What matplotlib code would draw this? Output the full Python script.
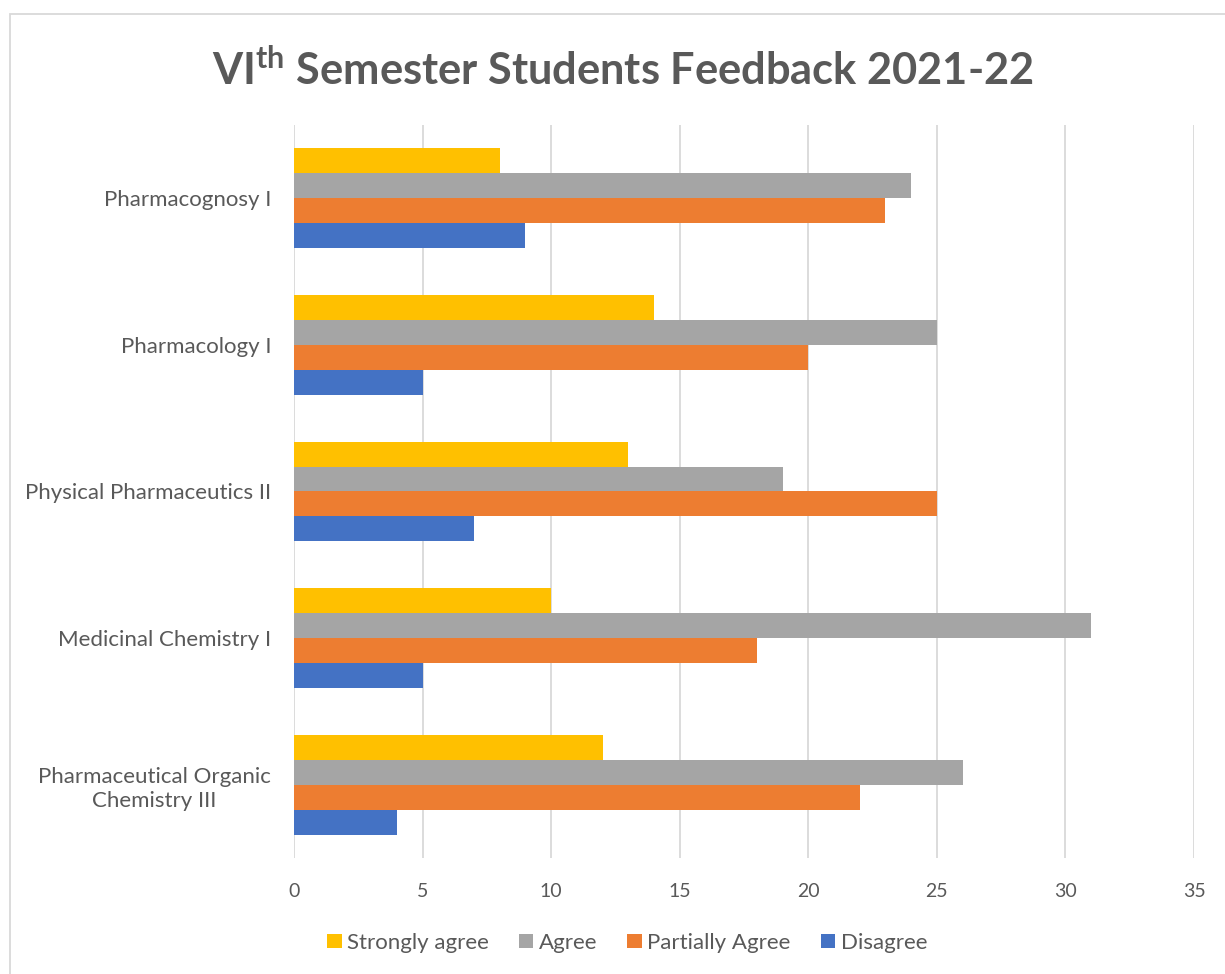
import numpy as np
import matplotlib.pyplot as plt
from matplotlib.patches import Rectangle

plt.rcParams['font.family'] = ['Lato', 'DejaVu Sans']
plt.rcParams['mathtext.fontset'] = 'custom'
plt.rcParams['mathtext.bf'] = 'Lato:bold'
plt.rcParams['mathtext.rm'] = 'Lato'

subjects = ['Pharmacognosy I', 'Pharmacology I', 'Physical Pharmaceutics II',
            'Medicinal Chemistry I', 'Pharmaceutical Organic\nChemistry III']
strongly_agree = [8, 14, 13, 10, 12]
agree = [24, 25, 19, 31, 26]
partially_agree = [23, 20, 25, 18, 22]
disagree = [9, 5, 7, 5, 4]

series = [('Strongly agree', strongly_agree, '#FFC000'),
          ('Agree', agree, '#A5A5A5'),
          ('Partially Agree', partially_agree, '#ED7D31'),
          ('Disagree', disagree, '#4472C4')]

text_col = '#595959'

fig = plt.figure(figsize=(12.25, 9.74), dpi=100)
ax = fig.add_axes([0.240, 0.1191, 0.7347, 0.7526])

y = np.arange(len(subjects))
h = 0.17
for i, (name, vals, col) in enumerate(series):
    ax.barh(y + (i - 1.5) * h, vals, height=h, color=col, label=name, zorder=3)

ax.set_ylim(len(subjects) - 0.5, -0.5)
ax.set_xlim(0, 35)
ax.set_xticks(np.arange(0, 36, 5))
ax.set_yticks(y)
ax.set_yticklabels(subjects, ha='right', multialignment='center', linespacing=1.3)
ax.tick_params(axis='y', length=0, pad=16.5, labelsize=16, labelcolor=text_col)
ax.tick_params(axis='x', length=0, pad=18, labelsize=14, labelcolor=text_col)
ax.xaxis.grid(True, color='#D9D9D9', linewidth=1.3, zorder=0)
for s in ax.spines.values():
    s.set_visible(False)

fig.text(0.508, 0.928, r'VI$^{\mathbf{th}}$ Semester Students Feedback 2021-22',
         ha='center', va='center', fontsize=31.2, fontweight='bold', color=text_col)

leg = fig.legend(loc='center', bbox_to_anchor=(0.512, 0.032), ncol=4, frameon=False,
                 fontsize=16, handlelength=0.65, handleheight=0.65, handletextpad=0.25,
                 columnspacing=1.35)
for t in leg.get_texts():
    t.set_color(text_col)

fig.patches.append(Rectangle((10 / 1225, -0.01), 1.02, 1 - 14 / 974 + 0.01,
                             transform=fig.transFigure, fill=False,
                             edgecolor='#D9D9D9', linewidth=1.3))

fig.savefig('out.png', dpi=100)
